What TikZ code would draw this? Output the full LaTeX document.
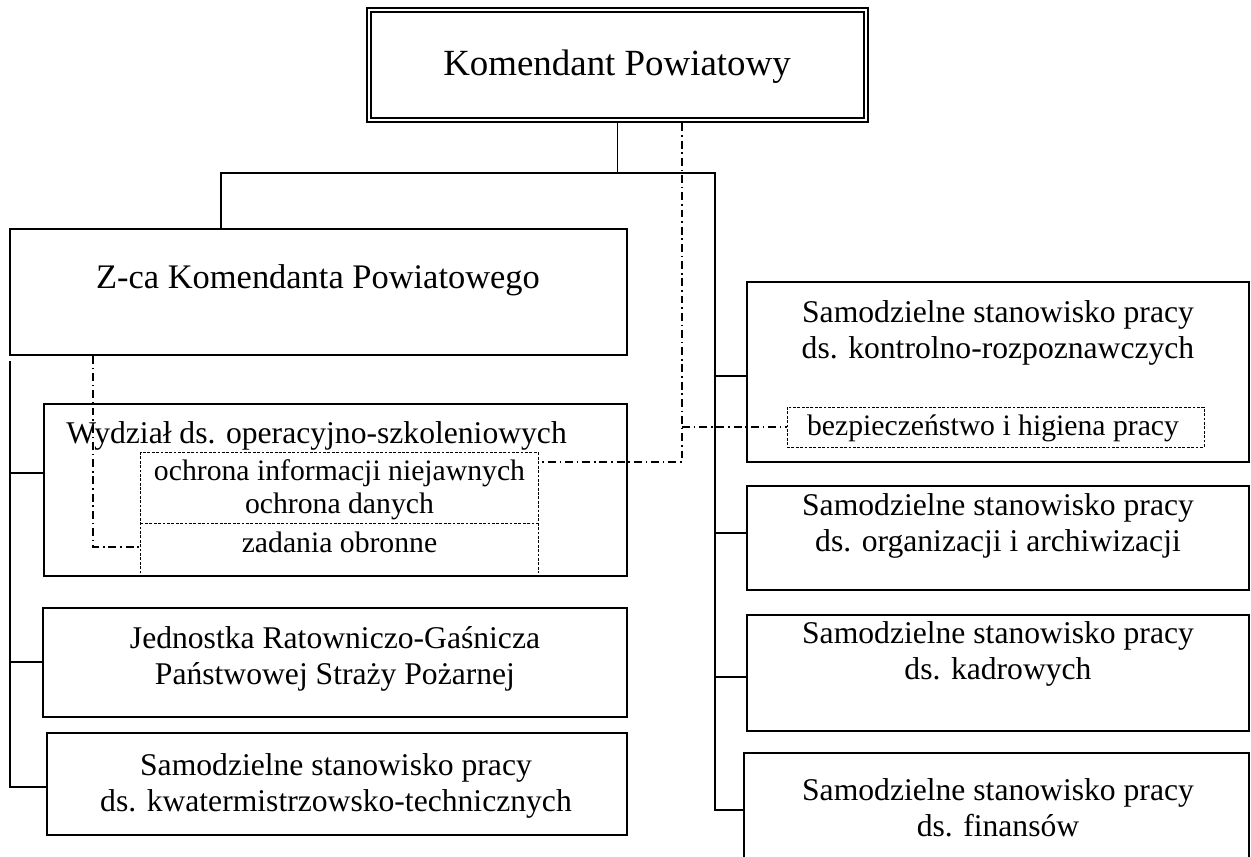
\documentclass[tikz,border=0pt]{standalone}
\usepackage{fontspec}
\setmainfont{Liberation Serif}
\usetikzlibrary{fit}

\tikzset{
  box/.style={draw, line width=1pt, inner sep=0pt},
  conn/.style={line width=1pt},
  ddline/.style={line width=0.85pt, dash pattern=on 4.5pt off 2.2pt on 0.9pt off 2.2pt},
  fineline/.style={line width=0.5pt, dash pattern=on 1.6pt off 0.9pt},
  txt/.style={inner sep=0pt, align=center, font=\fontsize{18}{20.5}\selectfont},
  smalltxt/.style={inner sep=0pt, align=center, font=\fontsize{16.9}{18.8}\selectfont},
}

\begin{document}
\begin{tikzpicture}[x=0.02cm, y=-0.02cm]
  \clip (0,0) rectangle (1251,856);

  % top box (double frame)
  \node[box, line width=1.6pt, fit={(367,8) (868,122)}] (kom) {};
  \draw[line width=0.9pt] ([shift={(5.5,5.5)}]kom.north west) rectangle ([shift={(-5.5,-5.5)}]kom.south east);
  \node[txt, font=\fontsize{21}{25}\selectfont, anchor=base] (kom-t) at (617,75) {Komendant Powiatowy};

  % boxes
  \node[box, fit={(10,229) (627,355)}] (zca) {};
  \node[box, fit={(44,404) (627,576)}] (l1) {};
  \node[box, fit={(43,608) (627,717)}] (l2) {};
  \node[box, fit={(47,733) (627,835)}] (l3) {};
  \node[box, fit={(747,282) (1249,462)}] (r1) {};
  \node[box, fit={(747,486) (1249,590)}] (r2) {};
  \node[box, fit={(747,615) (1249,731)}] (r3) {};
  \node[box, fit={(744,753) (1249,880)}] (r4) {};

  % texts
  \node[txt, font=\fontsize{19.6}{22}\selectfont, anchor=base] (zca-t) at (318,288) {Z-ca Komendanta Powiatowego};
  \node[txt, anchor=base west] (l1-t) at (66,443) {Wydział ds. operacyjno-szkoleniowych};
  \node[txt, anchor=north] (l2-t) at (335,626.3) {Jednostka Ratowniczo-Gaśnicza\\Państwowej Straży Pożarnej};
  \node[txt, anchor=north] (l3-t) at (336,753.3) {Samodzielne stanowisko pracy\\ds. kwatermistrzowsko-technicznych};
  \node[txt, anchor=north] (r1-t) at (998,300.3) {Samodzielne stanowisko pracy\\ds. kontrolno-rozpoznawczych};
  \node[txt, anchor=north] (r2-t) at (998,493.3) {Samodzielne stanowisko pracy\\ds. organizacji i archiwizacji};
  \node[txt, anchor=north] (r3-t) at (998,621.3) {Samodzielne stanowisko pracy\\ds. kadrowych};
  \node[txt, anchor=north] (r4-t) at (998,778.3) {Samodzielne stanowisko pracy\\ds. finansów};

  % dotted parts
  \node[fit={(141,453) (538,573)}, inner sep=0pt] (sec) {};
  \draw[fineline] (sec.south west) -- (sec.north west) -- (sec.north east) -- (sec.south east);
  \draw[fineline] (sec.west |- 0,523) -- (sec.east |- 0,523);
  \node[smalltxt, anchor=north] (sec-t) at (339.5,459.7) {ochrona informacji niejawnych\\ochrona danych};
  \node[smalltxt, anchor=base] (sec-b) at (339.5,552) {zadania obronne};
  \node[box, fineline, fit={(787,407) (1204,447)}] (bhp) {};
  \node[smalltxt, anchor=base] (bhp-t) at (993,435) {bezpieczeństwo i higiena pracy};

  % solid lines
  \coordinate (busL) at (221,173);
  \coordinate (busR) at (715,173);
  \coordinate (sr1) at (715,376);
  \coordinate (sr2) at (715,533);
  \coordinate (sr3) at (715,677);
  \coordinate (sr4) at (715,810);
  \draw[conn] (kom.south) -- (kom.south |- busL);
  \draw[conn] (zca.north -| busL) -- (busL) -- (busR) -- (sr4) -- (sr4 -| r4.west);
  \draw[conn] (sr1) -- (sr1 -| r1.west);
  \draw[conn] (sr2) -- (sr2 -| r2.west);
  \draw[conn] (sr3) -- (sr3 -| r3.west);

  \coordinate (sl0) at (10,361);
  \coordinate (sl1) at (10,473);
  \coordinate (sl2) at (10,662);
  \coordinate (sl3) at (10,787);
  \draw[conn] (sl0) -- (sl3) -- (sl3 -| l3.west);
  \draw[conn] (sl1) -- (sl1 -| l1.west);
  \draw[conn] (sl2) -- (sl2 -| l2.west);

  % dash-dot lines
  \coordinate (dd1) at (682,462);
  \coordinate (dd2) at (93,547);
  \draw[ddline] (kom.south -| dd1) -- (dd1) -- (dd1 -| sec.east);
  \draw[ddline] (dd1 |- bhp.west) -- (bhp.west);
  \draw[ddline] (zca.south -| dd2) -- (dd2) -- (dd2 -| sec.west);
\end{tikzpicture}
\end{document}
